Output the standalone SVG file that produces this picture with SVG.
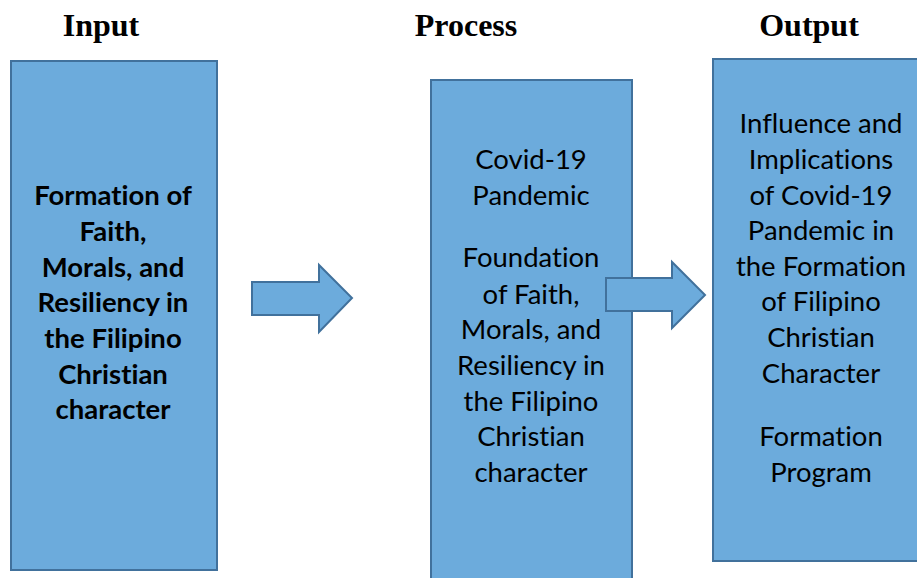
<svg xmlns="http://www.w3.org/2000/svg" width="917" height="578" viewBox="0 0 917 578">
<style>
.box{fill:#6CABDC;stroke:#41719C;stroke-width:2}
.arrow{fill:#6CABDC;stroke:#41719C;stroke-width:2;stroke-linejoin:miter}
.title{font-family:"Liberation Serif",serif;font-weight:bold;font-size:32px;text-anchor:middle;fill:#000}
.t{font-family:Lato,"Open Sans",sans-serif;font-size:27.5px;text-anchor:middle;fill:#000;font-variant-ligatures:none}
.b{font-weight:bold}
</style>
<rect width="917" height="578" fill="#fff"/>
<g id="title-input"><text class="title" x="101" y="36">Input</text></g>
<g id="title-process"><text class="title" x="466" y="36">Process</text></g>
<g id="title-output"><text class="title" x="809" y="36">Output</text></g>
<g id="input">
<rect class="box" x="11" y="61" width="206" height="509"/>
<text class="t b"><tspan x="113" y="205">Formation of</tspan><tspan x="113" y="241">Faith,</tspan><tspan x="113" y="277">Morals, and</tspan><tspan x="113" y="312">Resiliency in</tspan><tspan x="113" y="348">the Filipino</tspan><tspan x="113" y="384">Christian</tspan><tspan x="113" y="419">character</tspan></text>
</g>
<g id="process">
<rect class="box" x="431" y="80" width="201" height="500"/>
<text class="t"><tspan x="531" y="169">Covid-19</tspan><tspan x="531" y="205">Pandemic</tspan><tspan x="531" y="267">Foundation</tspan><tspan x="531" y="304">of Faith,</tspan><tspan x="531" y="339">Morals, and</tspan><tspan x="531" y="375">Resiliency in</tspan><tspan x="531" y="411">the Filipino</tspan><tspan x="531" y="446">Christian</tspan><tspan x="531" y="482">character</tspan></text>
</g>
<g id="output">
<rect class="box" x="713" y="59" width="210" height="502"/>
<text class="t"><tspan x="821" y="133">Influence and</tspan><tspan x="821" y="169">Implications</tspan><tspan x="821" y="205">of Covid-19</tspan><tspan x="821" y="240">Pandemic in</tspan><tspan x="821" y="276">the Formation</tspan><tspan x="821" y="311">of Filipino</tspan><tspan x="821" y="347">Christian</tspan><tspan x="821" y="383">Character</tspan><tspan x="821" y="446">Formation</tspan><tspan x="821" y="482">Program</tspan></text>
</g>
<g id="connectors">
<path class="arrow" d="M252,282 L319,282 L319,265 L352,298 L319,332 L319,315 L252,315 Z"/>
<path class="arrow" d="M606,278 L672,278 L672,262 L705,295 L672,328 L672,311 L606,311 Z"/>
</g>
</svg>
